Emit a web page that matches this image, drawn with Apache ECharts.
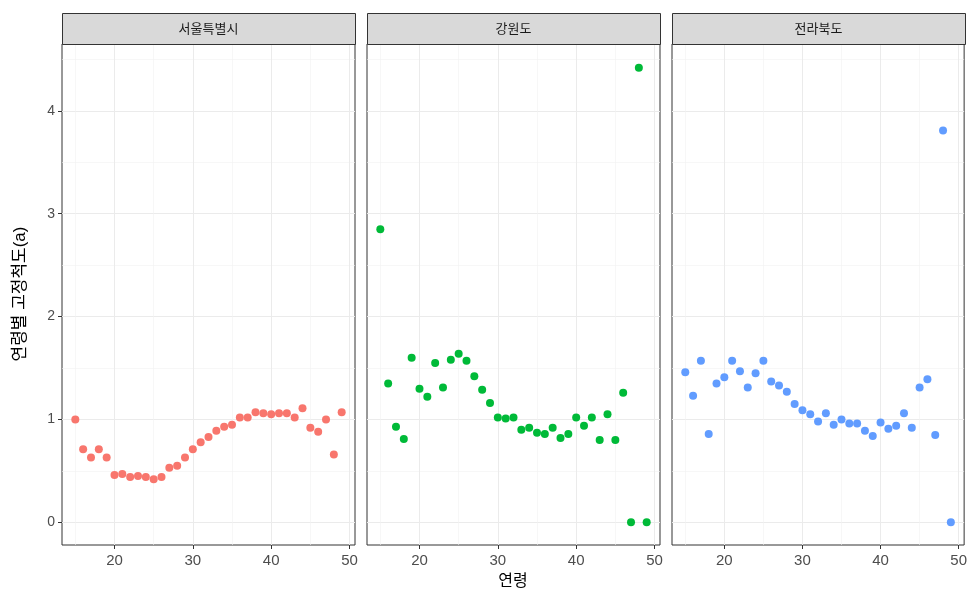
<!DOCTYPE html>
<html><head><meta charset="utf-8">
<script src="https://cdn.jsdelivr.net/npm/echarts@6/dist/echarts.min.js"></script>
<style>html,body{margin:0;padding:0;background:#fff}#c{width:970px;height:592px}</style>
</head><body><div id="c"></div>
<script>
var ages = [15,16,17,18,19,20,21,22,23,24,25,26,27,28,29,30,31,32,33,34,35,36,37,38,39,40,41,42,43,44,45,46,47,48,49];
var panels = ['서울특별시','강원도','전라북도'];
var seoul = [1.00,0.71,0.63,0.71,0.63,0.46,0.47,0.44,0.45,0.44,0.42,0.44,0.53,0.55,0.63,0.71,0.78,0.83,0.89,0.93,0.95,1.02,1.02,1.07,1.06,1.05,1.06,1.06,1.02,1.11,0.92,0.88,1.00,0.66,1.07];
var gangwon = [2.85,1.35,0.93,0.81,1.60,1.30,1.22,1.55,1.31,1.58,1.64,1.57,1.42,1.29,1.16,1.02,1.01,1.02,0.90,0.92,0.87,0.86,0.92,0.82,0.86,1.02,0.94,1.02,0.80,1.05,0.80,1.26,0.00,4.42,0.00];
var jeonbuk = [1.46,1.23,1.57,0.86,1.35,1.41,1.57,1.47,1.31,1.45,1.57,1.37,1.33,1.27,1.15,1.09,1.05,0.98,1.06,0.95,1.00,0.96,0.96,0.89,0.84,0.97,0.91,0.94,1.06,0.92,1.31,1.39,0.85,3.81,0.00];
var xTicks = [20,30,40,50];
var xMinor = [15,25,35,45];
var yTicks = [0,1,2,3,4];
var yMinor = [0.5,1.5,2.5,3.5,4.5];
var seriesVals = [seoul, gangwon, jeonbuk];
var colors = ['#F8766D','#00BA38','#619CFF'];

var FONT = 'Liberation Sans, Noto Sans CJK KR, sans-serif';
var lefts = [62, 367, 672], W = 293, TOP = 44, H = 501;
var grids = [], xAxes = [], yAxes = [], series = [], graphics = [];
for (var i = 0; i < 3; i++) {
  grids.push({left: lefts[i], top: TOP, width: W, height: H, show: true, borderColor: '#333', borderWidth: 1, backgroundColor: '#fff'});
  xAxes.push({type:'value', gridIndex:i, min:13.3, max:50.7, position:'bottom',
    axisLine:{show:false, onZero:false}, axisLabel:{show:false}, axisTick:{show:false, customValues:xMinor},
    splitLine:{show:true, lineStyle:{color:'#F2F2F2', width:0.6}}});
  xAxes.push({type:'value', gridIndex:i, min:13.3, max:50.7, position:'bottom',
    axisLine:{show:false, onZero:false},
    axisTick:{show:true, length:4, lineStyle:{color:'#333'}, customValues:xTicks},
    axisLabel:{show:true, customValues:xTicks, color:'#4D4D4D', fontSize:15, fontFamily:FONT, margin:8},
    splitLine:{show:true, lineStyle:{color:'#EBEBEB', width:1}}});
  yAxes.push({type:'value', gridIndex:i, min:-0.22, max:4.65, position:'left',
    axisLine:{show:false, onZero:false}, axisLabel:{show:false}, axisTick:{show:false, customValues:yMinor},
    splitLine:{show:true, lineStyle:{color:'#F2F2F2', width:0.6}}});
  yAxes.push({type:'value', gridIndex:i, min:-0.22, max:4.65, position:'left',
    axisLine:{show:false, onZero:false},
    axisTick:{show:i===0, length:4, lineStyle:{color:'#333'}, customValues:yTicks},
    axisLabel:{show:i===0, customValues:yTicks, color:'#4D4D4D', fontSize:14, fontFamily:FONT, margin:7},
    splitLine:{show:true, lineStyle:{color:'#EBEBEB', width:1}}});
  series.push({type:'scatter', xAxisIndex:2*i+1, yAxisIndex:2*i+1, symbolSize:8,
    itemStyle:{color:colors[i], opacity:1},
    data: ages.map(function(a, k){ return [a, seriesVals[i][k]]; })});
  graphics.push({type:'rect', left:lefts[i], top:13, shape:{width:W, height:31},
    style:{fill:'#D9D9D9', stroke:'#333', lineWidth:1}, z:10});
  graphics.push({type:'text', x:lefts[i]+W/2, y:29, style:{text:panels[i], fill:'#1A1A1A', font:'13px '+FONT, textAlign:'center', textVerticalAlign:'middle'}, z:11});
}
graphics.push({type:'text', x:513, y:582, style:{text:'연령', fill:'#000', font:'16px '+FONT, textAlign:'center', textVerticalAlign:'middle'}});
graphics.push({type:'text', x:20, y:294, rotation:Math.PI/2, style:{text:'연령별 고정척도(a)', fill:'#000', font:'17px '+FONT, textAlign:'center', textVerticalAlign:'middle'}});

var chart = echarts.init(document.getElementById('c'), null, {renderer:'canvas'});
chart.setOption({animation:false, backgroundColor:'#fff', grid:grids, xAxis:xAxes, yAxis:yAxes, series:series, graphic:graphics});
</script></body></html>
